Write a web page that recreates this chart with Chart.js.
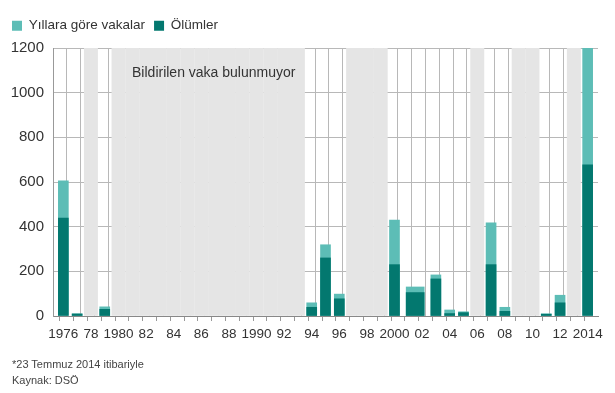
<!DOCTYPE html>
<html>
<head>
<meta charset="utf-8">
<script src="https://cdn.jsdelivr.net/npm/chart.js@4/dist/chart.umd.min.js"></script>
<style>
  html, body { margin: 0; padding: 0; background: #fff; }
  #wrap { position: relative; width: 615px; height: 393px; overflow: hidden; }
  canvas { position: absolute; left: 0; top: 0; }
  .note { position: absolute; left: 12px; font-family: 'Liberation Sans', Arial, sans-serif; font-size: 11px; color: #444; white-space: nowrap; }
</style>
</head>
<body>
<div id="wrap">
  <canvas id="c" width="615" height="393"></canvas>
  <div class="note" style="top:358px">*23 Temmuz 2014 itibariyle</div>
  <div class="note" style="top:374px">Kaynak: DSÖ</div>
</div>
<script>
// ---- data ----
const caseYears = [1976, 1977, 1979, 1994, 1995, 1996, 2000, 2003, 2004, 2005, 2007, 2008, 2011, 2012, 2014];
const cases     = [605,  10,   41,   59,   319,  98,   430,  184,  27,   19,   417,  39,   10,   93,   1205];
const deaths    = [438,  9,    30,   39,   260,  77,   230,  166,  11,   15,   230,  21,   8,    59,   677];
// outbreak spanning 2001-2002, drawn across both years
const spanPeriods = [2001.5];
const spanCases   = [130];
const spanDeaths  = [105];
// years with no reported cases
const noCaseYears = [1978, 1980, 1981, 1982, 1983, 1984, 1985, 1986, 1987, 1988, 1989, 1990, 1991, 1992, 1993,
                     1997, 1998, 1999, 2006, 2009, 2010, 2013];
const tickLabelYears = [1976, 1978, 1980, 1982, 1984, 1986, 1988, 1990, 1992, 1994, 1996, 1998, 2000, 2002, 2004, 2006, 2008, 2010, 2012, 2014];
const tickLabels     = ['1976', '78', '1980', '82', '84', '86', '88', '1990', '92', '94', '96', '98', '2000', '02', '04', '06', '08', '10', '12', '2014'];
const seriesNames = ['Yıllara göre vakalar', 'Ölümler'];
const noDataNote = 'Bildirilen vaka bulunmuyor';
const yMin = 0, yMax = 1200, yStep = 200;
const firstYear = 1976, lastYear = 2014;

const FONT = "'Liberation Sans', Arial, sans-serif";
const LIGHT = '#5dbdb6';
const DARK = '#03786f';
const BAND = '#e5e5e5';
const GRID = '#b8b8b8';

Chart.defaults.font.family = FONT;
Chart.defaults.color = '#333';

const pts = (xs, ys) => xs.map((x, i) => ({ x: x, y: ys[i] }));

const legendSpace = {
  id: 'legendSpace',
  beforeInit(chart) {
    const fit = chart.legend.fit;
    chart.legend.fit = function () { fit.call(this); this.height += 5.5; };
  }
};

const notePlugin = {
  id: 'noteText',
  afterDatasetsDraw(chart) {
    const { ctx, scales } = chart;
    const x = scales.x.getPixelForValue((1980 + 1993) / 2 + 0.4);
    const y = scales.y.getPixelForValue(1086);
    ctx.save();
    ctx.font = "14px " + FONT;
    ctx.fillStyle = '#333';
    ctx.textAlign = 'center';
    ctx.textBaseline = 'middle';
    ctx.fillText(noDataNote, x, y);
    ctx.restore();
  }
};

const isNoCase = (y) => noCaseYears.indexOf(y) >= 0;

new Chart(document.getElementById('c'), {
  type: 'bar',
  data: {
    datasets: [
      { label: seriesNames[0], data: pts(caseYears, cases), backgroundColor: LIGHT, borderWidth: 0, barThickness: 10, grouped: false, order: 2 },
      { label: seriesNames[1], data: pts(caseYears, deaths), backgroundColor: DARK, borderWidth: 0, barThickness: 10, grouped: false, order: 1 },
      { label: 'span-cases', data: pts(spanPeriods, spanCases), backgroundColor: LIGHT, borderWidth: 0, barThickness: 18, grouped: false, order: 2 },
      { label: 'span-deaths', data: pts(spanPeriods, spanDeaths), backgroundColor: DARK, borderWidth: 0, barThickness: 18, grouped: false, order: 1 },
      { label: 'bands', data: noCaseYears.map(y => ({ x: y, y: yMax })), backgroundColor: BAND, borderWidth: 0, barThickness: 13.3, grouped: false, order: 5 }
    ]
  },
  options: {
    responsive: false,
    animation: false,
    devicePixelRatio: 1,
    layout: { padding: { top: 10, left: 3, right: 17, bottom: 0 } },
    plugins: {
      tooltip: { enabled: false },
      legend: {
        position: 'top',
        align: 'start',
        labels: {
          boxWidth: 10, boxHeight: 10, padding: 9,
          font: { size: 13.5, family: FONT }, color: '#333',
          filter: (item) => item.datasetIndex < 2,
          sort: (a, b) => a.datasetIndex - b.datasetIndex
        }
      }
    },
    scales: {
      x: {
        type: 'linear',
        min: firstYear - 0.5,
        max: lastYear + 0.5,
        afterBuildTicks: (s) => {
          const t = [];
          for (let v = firstYear - 0.5; v <= lastYear + 0.5 + 1e-9; v += 0.5) t.push({ value: v });
          s.ticks = t;
        },
        afterFit: (s) => { s.height = 77; },
        ticks: {
          autoSkip: false, maxRotation: 0, minRotation: 0, padding: 5,
          font: { size: 13.5, family: FONT }, color: '#333',
          callback: (v) => { const i = tickLabelYears.indexOf(v); return i >= 0 ? tickLabels[i] : ''; }
        },
        grid: {
          drawTicks: true, tickLength: 5, lineWidth: 1,
          color: (ctx) => {
            const v = ctx.tick ? ctx.tick.value : null;
            if (v == null || Number.isInteger(v)) return 'rgba(0,0,0,0)';
            if (isNoCase(v - 0.5) && isNoCase(v + 0.5)) return '#ececec';
            return GRID;
          },
          tickColor: (ctx) => (ctx.tick && Number.isInteger(ctx.tick.value)) ? '#999' : 'rgba(0,0,0,0)'
        },
        border: { color: '#888', width: 1 }
      },
      y: {
        min: yMin, max: yMax,
        afterFit: (s) => { s.width = 50; },
        ticks: { stepSize: yStep, padding: 9, font: { size: 15, family: FONT }, color: '#333', callback: (v) => String(v) },
        grid: { color: GRID, drawTicks: false, lineWidth: 1 },
        border: { color: '#999', width: 1 }
      }
    }
  },
  plugins: [legendSpace, notePlugin]
});
</script>
</body>
</html>
